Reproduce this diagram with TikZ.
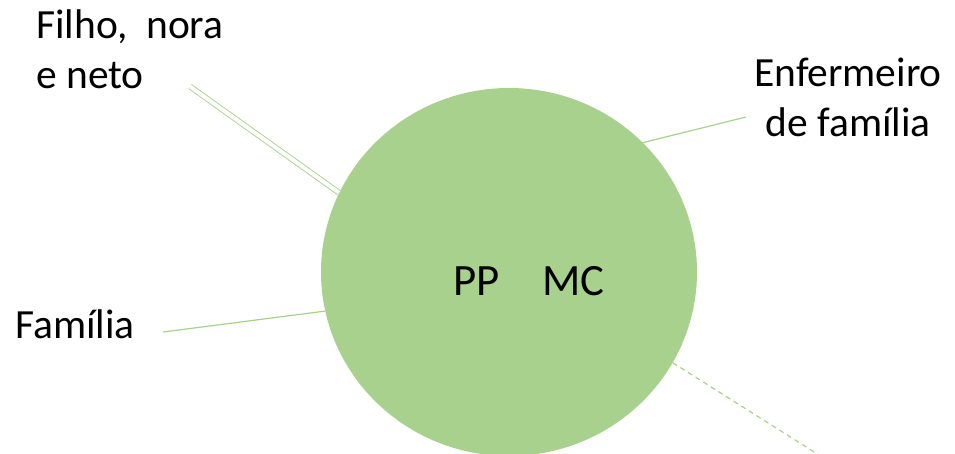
\documentclass[tikz,border=0pt]{standalone}
\usepackage{fontspec}
\setmainfont{Carlito}
\usetikzlibrary{shapes.geometric}
\definecolor{leaf}{HTML}{A9D18E}
\tikzset{
    lbl/.style={inner sep=0pt, font=\fontsize{41.5}{50}\selectfont},
    link/.style={draw=leaf, line width=1.2pt}
}
\begin{document}
\begin{tikzpicture}[x=1pt, y=-1pt]
    \useasboundingbox (0,0) rectangle (955,454);
    \node[ellipse, fill=leaf, minimum width=376pt, minimum height=368pt, inner sep=0pt] (pp) at (509,272) {};
    \node[lbl, anchor=base west, font=\fontsize{44.8}{54}\selectfont] (ppmc) at (453,295) {PP\hspace{43pt}MC};
    \node[lbl, anchor=base west, align=left] (filho) at (36,89) {Filho,\ \ nora\\e neto};
    \node[lbl, anchor=base, align=center] (enf) at (848,137) {Enfermeiro\\de família};
    \node[lbl, anchor=base west] (fam) at (15,338) {Família};
    \coordinate (filhoend) at (190,86.5);
    \coordinate (enfend) at (746,117);
    \coordinate (famend) at (163,332);
    \coordinate (outend) at (830,462);
    \draw[link, double=white, double distance=4pt, line width=0.9pt] (filhoend) -- (pp.155);
    \draw[link] (pp.44) -- (enfend);
    \draw[link] (famend) -- (pp.192.6);
    \draw[link, dash pattern=on 5pt off 4pt] (pp.331) -- (outend);
\end{tikzpicture}
\end{document}
